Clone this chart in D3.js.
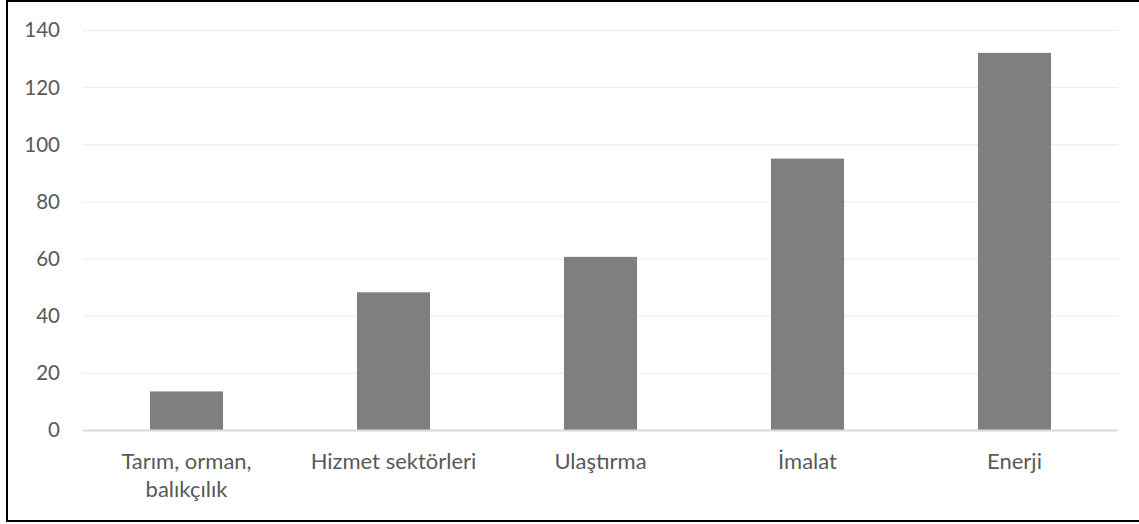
<!DOCTYPE html>
<html>
<head>
<meta charset="utf-8">
<script src="https://cdnjs.cloudflare.com/ajax/libs/d3/7.8.5/d3.min.js"></script>
<style>
  html, body { margin: 0; padding: 0; background: #fff; }
  svg { display: block; }
  text { font-family: Lato, "Open Sans", sans-serif; fill: #595959; }
</style>
</head>
<body>
<div id="chart"></div>
<script>
// data
const categories = [['Tarım, orman,', 'balıkçılık'], ['Hizmet sektörleri'], ['Ulaştırma'], ['İmalat'], ['Enerji']]
const values = [13.5, 48.2, 60.6, 95, 132]
const yTicks = [0, 20, 40, 60, 80, 100, 120, 140]

const W = 1139, H = 524
const margin = {top: 30, right: 21, bottom: 94, left: 83}
const width = W - margin.left - margin.right
const height = H - margin.top - margin.bottom

const svg = d3.select('#chart').append('svg')
    .attr('width', W)
    .attr('height', H)

// outer frame (right edge falls outside the picture)
svg.append('rect')
    .attr('x', 7).attr('y', 1)
    .attr('width', W + 10).attr('height', 520)
    .attr('fill', 'none')
    .attr('stroke', '#000')
    .attr('stroke-width', 2)

const g = svg.append('g')
    .attr('transform', `translate(${margin.left}, ${margin.top})`)

const x = d3.scaleBand()
    .domain(d3.range(categories.length))
    .range([0, width])
    .paddingInner(0.647)
    .paddingOuter(0.3235)

const y = d3.scaleLinear()
    .domain([0, 140])
    .range([height, 0])

// gridlines
g.selectAll('.grid')
    .data(yTicks.filter(t => t !== 0))
    .join('line')
    .attr('class', 'grid')
    .attr('x1', 0).attr('x2', width)
    .attr('y1', d => y(d) + 0.5).attr('y2', d => y(d) + 0.5)
    .attr('stroke', '#e3e3e3')
    .attr('stroke-width', 1)
    .attr('stroke-dasharray', '3,1')

// y labels
g.selectAll('.ylab')
    .data(yTicks)
    .join('text')
    .attr('class', 'ylab')
    .attr('x', -23)
    .attr('y', d => y(d))
    .attr('dy', '0.36em')
    .attr('text-anchor', 'end')
    .style('font-size', '20.5px')
    .text(d => d)

// bars
g.selectAll('.bar')
    .data(values)
    .join('rect')
    .attr('class', 'bar')
    .attr('x', (d, i) => x(i))
    .attr('width', x.bandwidth())
    .attr('y', d => y(d))
    .attr('height', d => height - y(d))
    .attr('fill', '#7f7f7f')

// baseline
g.append('line')
    .attr('x1', 0).attr('x2', width)
    .attr('y1', height + 0.5).attr('y2', height + 0.5)
    .attr('stroke', '#d9d9d9')
    .attr('stroke-width', 2)

// x labels
const xl = g.selectAll('.xlab')
    .data(categories)
    .join('text')
    .attr('class', 'xlab')
    .attr('text-anchor', 'middle')
    .attr('x', (d, i) => x(i) + x.bandwidth() / 2)
    .attr('y', height + 39)
    .style('font-size', '22px')

xl.selectAll('tspan')
    .data(d => d)
    .join('tspan')
    .attr('x', function () { return d3.select(this.parentNode).attr('x') })
    .attr('dy', (d, i) => i === 0 ? 0 : 28)
    .text(d => d)
</script>
</body>
</html>
